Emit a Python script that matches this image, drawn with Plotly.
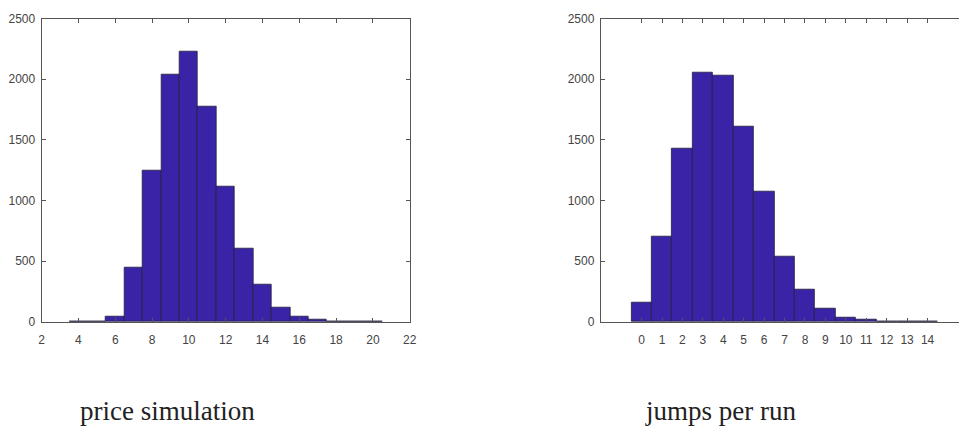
import plotly.graph_objects as go

# Histogram counts (bins of width 1 centred on integers)
price_bins = [4, 5, 6, 7, 8, 9, 10, 11, 12, 13, 14, 15, 16, 17, 18, 19, 20]
price_counts = [2, 3, 45, 450, 1250, 2035, 2225, 1778, 1112, 603, 310, 120, 40, 18, 5, 3, 2]

jump_bins = [0, 1, 2, 3, 4, 5, 6, 7, 8, 9, 10, 11, 12, 13, 14]
jump_counts = [162, 702, 1428, 2056, 2029, 1609, 1077, 537, 263, 106, 32, 19, 5, 3, 2]

price_ticks = [2, 4, 6, 8, 10, 12, 14, 16, 18, 20, 22]
jump_ticks = list(range(0, 15))
count_ticks = [0, 500, 1000, 1500, 2000, 2500]

captions = ["price simulation", "jumps per run"]

W, H = 966, 431
BAR = "#3a23a6"
EDGE = "#22203f"
AX = "#555555"
TXT = "#444444"

fig = go.Figure()
fig.add_trace(go.Bar(x=price_bins, y=price_counts, width=1,
                     marker=dict(color=BAR, line=dict(color=EDGE, width=0.8)),
                     xaxis="x", yaxis="y", showlegend=False))
fig.add_trace(go.Bar(x=jump_bins, y=jump_counts, width=1,
                     marker=dict(color=BAR, line=dict(color=EDGE, width=0.8)),
                     xaxis="x2", yaxis="y2", showlegend=False))

ydom = [1 - 325.5 / H, 1 - 12 / H]
tickfont = dict(family="Liberation Sans, Arial, sans-serif", size=12, color=TXT)

common_x = dict(showgrid=False, zeroline=False, showline=True, linecolor=AX, linewidth=1,
                ticks="inside", ticklen=4, tickcolor=AX, tickfont=tickfont,
                ticklabelstandoff=7)
common_y = dict(showgrid=False, zeroline=False, showline=True, linecolor=AX, linewidth=1,
                ticks="inside", ticklen=4, tickcolor=AX, tickfont=tickfont,
                range=[0, 2500], tickvals=count_ticks, ticklabelstandoff=3)

fig.update_layout(
    width=W, height=H,
    margin=dict(l=0, r=0, t=0, b=0),
    paper_bgcolor="white", plot_bgcolor="white",
    bargap=0,
    xaxis=dict(common_x, domain=[39 / W, 411 / W], range=[2, 22],
               tickvals=price_ticks, mirror="allticks", anchor="y"),
    yaxis=dict(common_y, domain=ydom, mirror="allticks", anchor="x"),
    xaxis2=dict(common_x, domain=[604 / W, 1.0], range=[-2, 15.54],
                tickvals=jump_ticks, mirror="allticks", anchor="y2"),
    yaxis2=dict(common_y, domain=ydom, mirror=False, anchor="x2"),
)

capfont = dict(family="Liberation Serif, Times New Roman, serif", size=27, color="#222222")
fig.add_annotation(text=captions[0], xref="paper", yref="paper",
                   x=76 / W, y=1 - 421 / H, xanchor="left", yanchor="bottom",
                   showarrow=False, font=capfont, yshift=-14)
fig.add_annotation(text=captions[1], xref="paper", yref="paper",
                   x=647 / W, y=1 - 421 / H, xanchor="left", yanchor="bottom",
                   showarrow=False, font=capfont, yshift=-14)

fig.write_html("out.html")
